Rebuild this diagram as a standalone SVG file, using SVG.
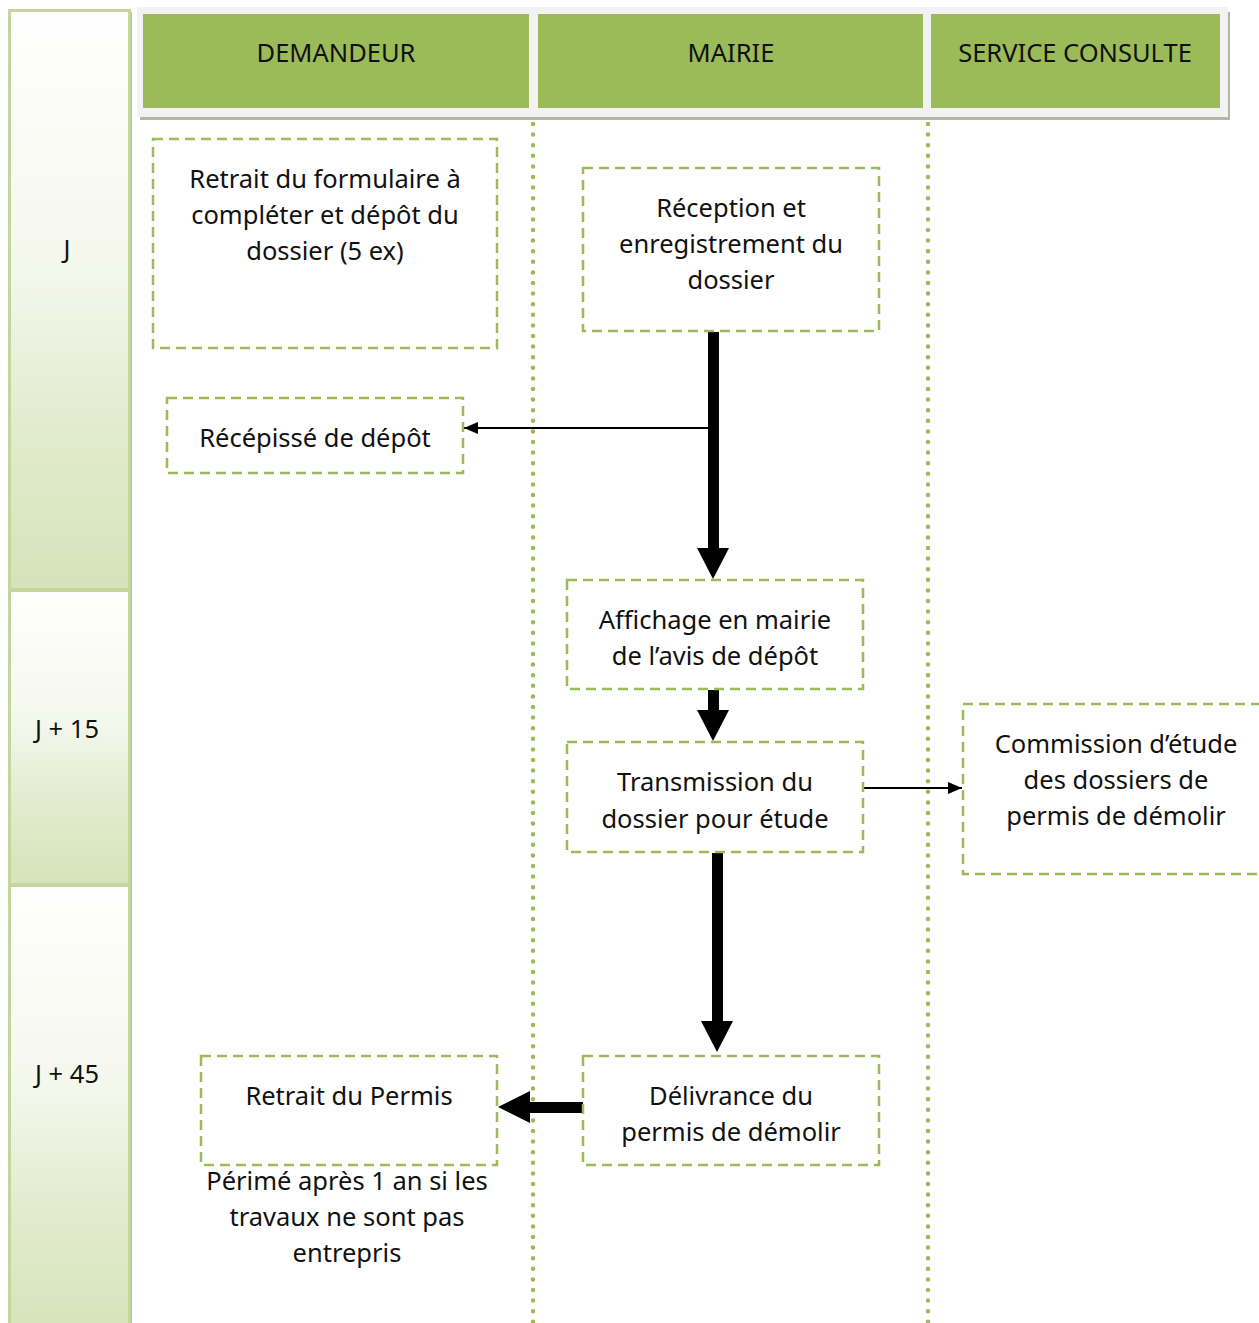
<svg xmlns="http://www.w3.org/2000/svg" width="1259" height="1323" viewBox="0 0 1259 1323">
  <defs>
    <linearGradient id="stageFill" x1="0" y1="0" x2="0" y2="1">
      <stop offset="0" stop-color="#ffffff"/>
      <stop offset="0.45" stop-color="#f4f7ec"/>
      <stop offset="0.7" stop-color="#e3ecd0"/>
      <stop offset="1" stop-color="#d6e3b9"/>
    </linearGradient>
    <marker id="thinHead" markerWidth="14" markerHeight="12" refX="14" refY="6" orient="auto" markerUnits="userSpaceOnUse">
      <path d="M0,0 L14,6 L0,12 Z" fill="#000"/>
    </marker>
  </defs>
  <style>
    .lbl { font-family: "Noto Sans", "DejaVu Sans", sans-serif; font-size: 25.5px; fill: #111; text-anchor: middle; }
    .hdr { font-family: "Noto Sans", "DejaVu Sans", sans-serif; font-size: 25.5px; fill: #111; text-anchor: middle; }
    .box { fill: #fff; stroke: #9bbb59; stroke-width: 2.5; stroke-dasharray: 10 6; }
    .stage { fill: url(#stageFill); stroke: #c3d69b; stroke-width: 3; }
    .lane { stroke: #9bbb59; stroke-width: 4.5; stroke-linecap: round; stroke-dasharray: 0 10.6; fill: none; }
    .head { fill: #9bbb59; }
    .thin { stroke: #000; stroke-width: 2; fill: none; marker-end: url(#thinHead); }
    .thick { fill: #000; }
  </style>

  <rect width="1259" height="1323" fill="#fff"/>

  <!-- time column -->
  <g id="stages">
    <rect x="129" y="12" width="3" height="1311" fill="#b5c98f"/>
    <rect class="stage" x="9.5" y="10.5" width="120" height="579"/>
    <rect class="stage" x="9.5" y="590.5" width="120" height="294"/>
    <rect class="stage" x="9.5" y="885.5" width="120" height="450"/>
    <text class="lbl" x="67" y="258">J</text>
    <text class="lbl" x="67" y="738">J + 15</text>
    <text class="lbl" x="67" y="1083">J + 45</text>
  </g>

  <!-- lane headers -->
  <g id="headers">
    <rect x="140" y="114" width="1090" height="6" fill="#b1b7a4"/>
    <rect x="1226" y="12" width="4" height="108" fill="#b1b7a4"/>
    <rect x="137" y="7" width="1091" height="110" fill="#f2f2f2"/>
    <g id="hdr-demandeur">
      <rect class="head" x="143" y="14" width="386" height="94"/>
      <text class="hdr" x="336" y="62">DEMANDEUR</text>
    </g>
    <g id="hdr-mairie">
      <rect class="head" x="538" y="14" width="385" height="94"/>
      <text class="hdr" x="731" y="62">MAIRIE</text>
    </g>
    <g id="hdr-service">
      <rect class="head" x="931" y="14" width="289" height="94"/>
      <text class="hdr" x="1075" y="62">SERVICE CONSULTE</text>
    </g>
  </g>

  <!-- lane separators -->
  <g id="lanes">
    <line class="lane" x1="533" y1="124" x2="533" y2="1323"/>
    <line class="lane" x1="928" y1="124" x2="928" y2="1323"/>
  </g>

  <!-- connectors -->
  <g id="connectors">
    <line class="thin" x1="713" y1="428" x2="464" y2="428"/>
    <line class="thin" x1="863" y1="788" x2="962" y2="788"/>
    <!-- Réception -> Affichage -->
    <path class="thick" d="M708,332 H719 V548 H729 L713,579 L697,548 H708 Z"/>
    <!-- Affichage -> Transmission -->
    <path class="thick" d="M708,690 H719 V710 H729 L713,741 L697,710 H708 Z"/>
    <!-- Transmission -> Délivrance -->
    <path class="thick" d="M712,853 H723 V1021 H733 L717,1052 L701,1021 H712 Z"/>
    <!-- Délivrance -> Retrait du Permis -->
    <path class="thick" d="M583,1102 V1113 H530 V1123 L498,1107 L530,1091 V1102 Z"/>
  </g>

  <!-- steps -->
  <g id="retrait-formulaire">
    <rect class="box" x="153" y="139" width="344" height="209"/>
    <text class="lbl" x="325" y="188">Retrait du formulaire à</text>
    <text class="lbl" x="325" y="224">compléter et dépôt du</text>
    <text class="lbl" x="325" y="260">dossier (5 ex)</text>
  </g>
  <g id="reception">
    <rect class="box" x="583" y="168" width="296" height="163"/>
    <text class="lbl" x="731" y="217">Réception et</text>
    <text class="lbl" x="731" y="253">enregistrement du</text>
    <text class="lbl" x="731" y="289">dossier</text>
  </g>
  <g id="recepisse">
    <rect class="box" x="167" y="398" width="296" height="75"/>
    <text class="lbl" x="315" y="447">Récépissé de dépôt</text>
  </g>
  <g id="affichage">
    <rect class="box" x="567" y="580" width="296" height="109"/>
    <text class="lbl" x="715" y="629">Affichage en mairie</text>
    <text class="lbl" x="715" y="665">de l’avis de dépôt</text>
  </g>
  <g id="transmission">
    <rect class="box" x="567" y="742" width="296" height="110"/>
    <text class="lbl" x="715" y="791">Transmission du</text>
    <text class="lbl" x="715" y="828">dossier pour étude</text>
  </g>
  <g id="commission">
    <rect class="box" x="963" y="704" width="310" height="170"/>
    <text class="lbl" x="1116" y="753">Commission d’étude</text>
    <text class="lbl" x="1116" y="789">des dossiers de</text>
    <text class="lbl" x="1116" y="825">permis de démolir</text>
  </g>
  <g id="delivrance">
    <rect class="box" x="583" y="1056" width="296" height="109"/>
    <text class="lbl" x="731" y="1105">Délivrance du</text>
    <text class="lbl" x="731" y="1141">permis de démolir</text>
  </g>
  <g id="retrait-permis">
    <rect class="box" x="201" y="1056" width="296" height="109"/>
    <text class="lbl" x="349" y="1105">Retrait du Permis</text>
    <text class="lbl" x="347" y="1190">Périmé après 1 an si les</text>
    <text class="lbl" x="347" y="1226">travaux ne sont pas</text>
    <text class="lbl" x="347" y="1262">entrepris</text>
  </g>
</svg>
